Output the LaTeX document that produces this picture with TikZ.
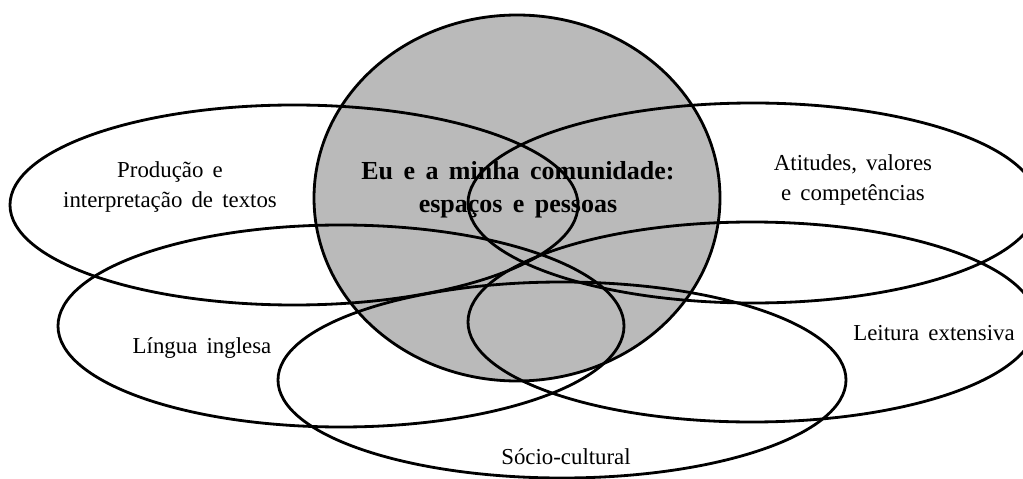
\documentclass[tikz,border=0pt]{standalone}
\usepackage{fontspec}
\setmainfont{Liberation Serif}[WordSpace=1.6]
\begin{document}
\begin{tikzpicture}[x=0.02cm,y=-0.02cm,
  ring/.style={line width=1.6pt},
  lbl/.style={font=\fontsize{13}{17}\selectfont, align=center, inner sep=0pt},
  ctr/.style={font=\fontsize{14.8}{19}\selectfont\bfseries, align=center, inner sep=0pt}]
\useasboundingbox (0,0) rectangle (1023,479);
\clip (0,0) rectangle (1023,479);
\coordinate (C) at (517,198);
\coordinate (TL) at (294,205);
\coordinate (TR) at (753,203);
\coordinate (BL) at (341,326);
\coordinate (BR) at (752,322);
\coordinate (B) at (562,380);
\fill[black!27] (C) ellipse [x radius=203, y radius=183];
\draw[ring] (TL) ellipse [x radius=284, y radius=100];
\draw[ring] (TR) ellipse [x radius=285, y radius=100];
\draw[ring] (BL) ellipse [x radius=283, y radius=101];
\draw[ring] (BR) ellipse [x radius=284, y radius=100];
\draw[ring] (B) ellipse [x radius=284, y radius=98];
\draw[ring] (C) ellipse [x radius=203, y radius=183];
\node[ctr] (tc) at (518,190) {Eu e a minha comunidade:\\espaços e pessoas};
\node[lbl] (tp) at (170,187) {Produção e\\interpretação de textos};
\node[lbl] (ta) at (853,180) {Atitudes, valores\\e competências};
\node[lbl] (tl) at (202,348) {Língua inglesa};
\node[lbl] (tr) at (934,333) {Leitura extensiva};
\node[lbl] (ts) at (566,457) {Sócio-cultural};
\end{tikzpicture}
\end{document}
